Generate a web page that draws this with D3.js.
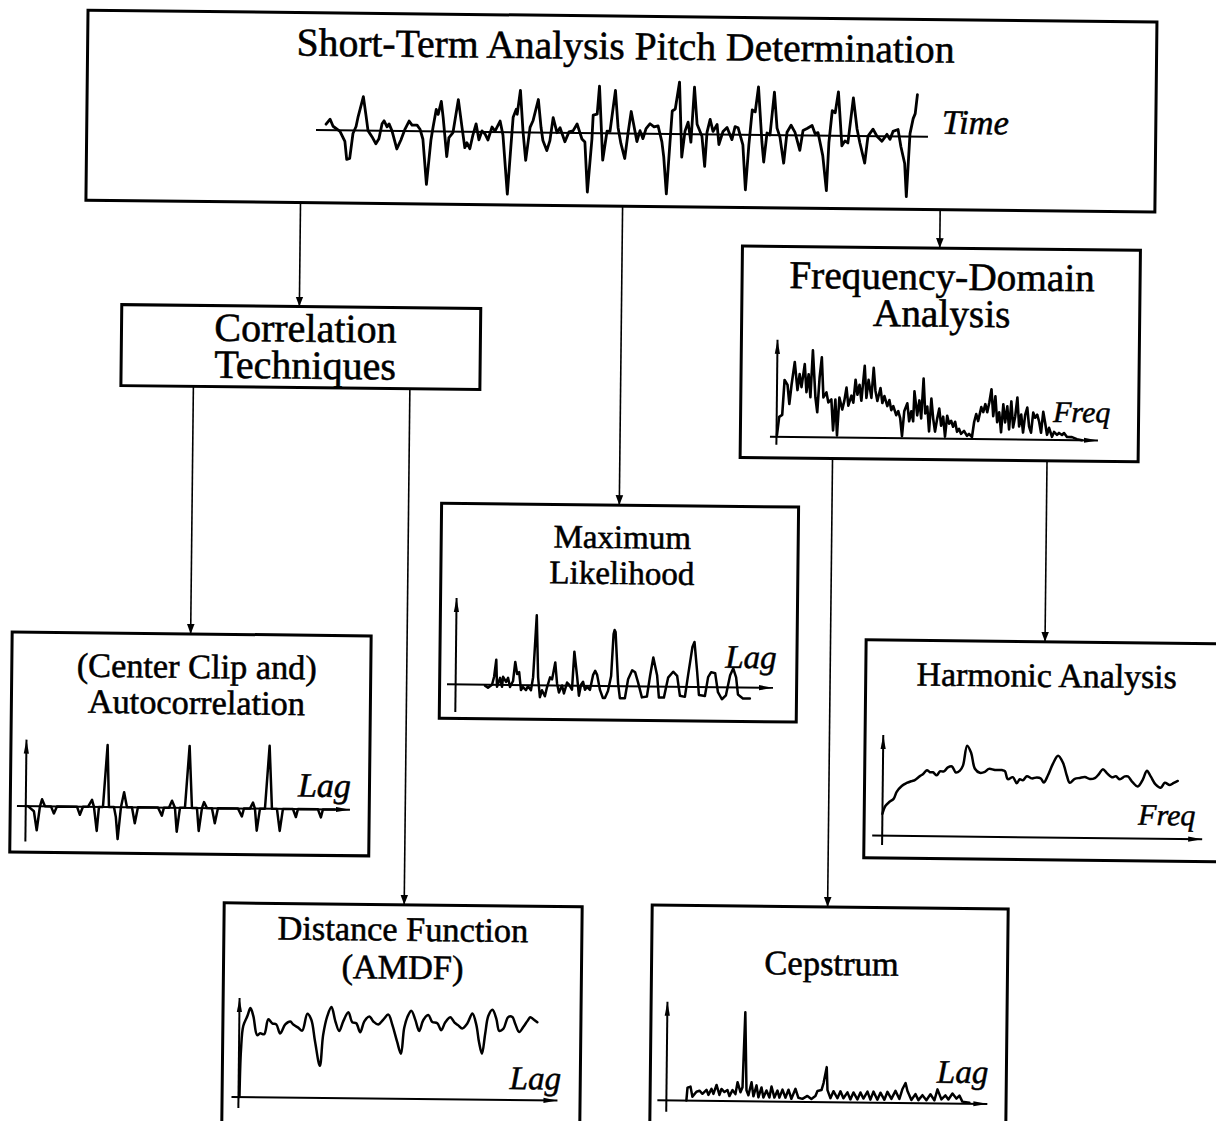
<!DOCTYPE html>
<html>
<head>
<meta charset="utf-8">
<script src="https://cdn.jsdelivr.net/npm/d3@7"></script>
<style>
  html, body { margin: 0; padding: 0; background: #fff; }
  svg { display: block; }
</style>
</head>
<body>
<script>
// ---------- signals (x in sample units along each axis, y in amplitude units) ----------

// speech segment shown in the header box: [time, amplitude]
const speech = [[10,6],[14,11],[17,4],[24,-1],[29,-11],[31,-29],[34,-28],[37,-3],[40,4],[42,14],[47,34],[50,14],[52,0],[56,-6],[60,-13],[63,-8],[66,7],[68,10],[71,4],[73,7],[76,0],[81,-18],[85,-9],[89,2],[93,10],[96,6],[101,6],[104,2],[107,-8],[111,-53],[115,-9],[117,4],[120,22],[122,17],[125,30],[127,14],[131,-25],[133,-6],[137,-1],[142,32],[146,4],[149,-16],[151,-11],[154,-17],[157,-3],[160,8],[163,-8],[166,1],[169,-2],[172,-8],[176,5],[179,1],[184,11],[187,-3],[192,-62],[195,-15],[197,15],[200,23],[201,18],[204,42],[207,1],[210,-28],[214,5],[217,12],[222,33],[225,5],[227,-8],[231,-18],[234,-8],[237,15],[241,0],[244,5],[249,-9],[253,1],[257,2],[261,9],[266,-6],[269,-9],[272,-59],[276,-6],[277,18],[281,19],[283,47],[287,-27],[291,2],[294,2],[299,43],[302,6],[305,-10],[309,-25],[312,0],[315,22],[318,7],[321,-8],[324,3],[327,-5],[330,5],[334,10],[338,7],[342,8],[346,-8],[348,-23],[351,-60],[354,-10],[356,23],[359,25],[363,52],[366,-23],[369,3],[372,12],[375,-8],[378,47],[381,10],[386,-2],[389,-32],[391,2],[394,15],[397,3],[401,10],[403,-10],[407,3],[411,7],[416,-5],[419,8],[422,7],[427,-10],[430,-55],[433,-10],[436,25],[439,23],[442,48],[446,-7],[448,-27],[451,2],[454,0],[458,43],[461,7],[464,-2],[468,-28],[471,3],[475,10],[479,3],[484,-15],[487,5],[491,7],[496,10],[499,2],[502,3],[507,-20],[511,-55],[513,-7],[516,25],[519,23],[522,44],[526,-10],[529,-5],[532,-7],[537,38],[541,7],[544,-7],[549,-27],[552,0],[557,7],[561,0],[566,-5],[571,2],[574,-3],[577,5],[582,7],[585,-10],[589,-27],[591,-60],[594,3],[597,18],[599,23],[601,42]];

// short-term magnitude spectrum: [frequency, magnitude]
const spectrum = [[7,2],[9,20],[12,22],[14,57],[17,52],[19,33],[21,52],[24,75],[27,47],[29,63],[31,50],[34,73],[36,45],[38,63],[40,40],[42,87],[45,40],[47,25],[49,60],[51,80],[53,40],[56,45],[58,35],[61,38],[63,7],[65,38],[67,2],[69,40],[72,28],[74,37],[76,50],[78,32],[81,42],[83,35],[85,58],[87,43],[89,53],[91,37],[94,72],[96,40],[98,58],[101,40],[103,70],[105,47],[107,37],[110,50],[112,35],[114,42],[117,32],[119,38],[121,28],[123,32],[126,23],[128,27],[130,20],[132,2],[134,27],[137,35],[139,17],[141,27],[143,17],[144,47],[147,23],[149,38],[151,20],[153,60],[155,25],[157,32],[159,7],[161,40],[163,20],[165,7],[167,20],[169,30],[171,13],[173,22],[175,2],[177,23],[179,15],[181,18],[183,12],[185,17],[187,7],[189,10],[191,5],[194,8],[197,3],[199,5],[202,2],[204,17],[206,25],[208,18],[211,32],[213,27],[215,35],[217,27],[219,37],[221,50],[223,23],[225,43],[227,17],[229,27],[231,7],[233,35],[235,17],[237,33],[239,10],[241,38],[243,12],[245,23],[247,42],[249,13],[251,25],[253,7],[255,25],[257,32],[259,13],[261,7],[263,27],[265,22],[267,25],[269,18],[271,7],[273,28],[275,17],[277,5],[279,12],[282,3],[284,8],[287,5],[289,7],[292,5],[294,7],[297,3],[302,3],[307,1],[312,0]];

// center-clipped autocorrelation: [lag, value]
const autocorr = [[9,0],[11,0],[17,-5],[20,-24],[23,0],[25,7],[28,0],[34,0],[37,-7],[40,0],[60,0],[63,-8],[66,0],[71,0],[75,7],[77,0],[80,-24],[82,0],[86,0],[90,62],[92,0],[97,0],[99,-10],[101,-32],[104,0],[107,15],[110,0],[115,0],[118,-16],[121,0],[141,0],[145,-8],[147,0],[152,0],[155,7],[158,0],[160,-24],[163,0],[168,0],[172,62],[175,0],[180,0],[182,-23],[185,0],[187,6],[190,0],[195,0],[198,-15],[201,0],[221,0],[225,-8],[227,0],[233,0],[236,6],[238,0],[240,-22],[243,0],[248,0],[252,63],[255,0],[260,0],[263,-22],[266,0],[276,0],[279,-8],[281,0],[301,0],[304,-8],[306,0],[318,0]];

// maximum-likelihood criterion: [lag, value]
const likelihood = [[38,-1],[41,-3],[45,0],[47,8],[49,25],[50,-2],[53,7],[55,-2],[56,8],[59,3],[61,7],[63,-2],[66,4],[68,23],[70,11],[72,13],[74,-5],[76,-2],[79,-5],[81,-1],[84,-5],[86,8],[89,70],[91,8],[93,-12],[95,-5],[98,-11],[100,-2],[103,8],[105,6],[108,23],[110,2],[112,-7],[115,0],[117,-8],[120,3],[122,1],[125,-4],[127,34],[130,9],[132,-10],[134,1],[136,4],[138,-4],[140,-1],[143,-4],[146,11],[148,15],[150,11],[153,-4],[156,-12],[158,-12],[161,-5],[164,10],[166,52],[167,56],[168,54],[171,3],[173,-12],[178,-12],[181,7],[185,16],[188,14],[191,4],[195,-11],[200,-10],[203,11],[206,29],[210,11],[212,-11],[217,-11],[221,9],[226,15],[230,11],[233,-9],[238,-10],[241,12],[245,40],[247,45],[250,15],[252,-8],[258,-9],[261,10],[264,15],[268,14],[271,-5],[275,-12],[279,-8],[283,12],[286,19],[289,10],[291,-7],[296,-11],[303,-11]];

// harmonic analysis (spectral comb / sum) curve: [frequency, value]
const harmonic = [[0,22],[3,30],[7,34],[11,37],[14,44],[19,50],[24,53],[29,55],[32,56],[37,60],[40,62],[44,66],[47,64],[50,64],[54,61],[57,65],[61,65],[65,69],[69,70],[73,64],[77,66],[80,71],[84,91],[88,84],[92,68],[97,64],[102,65],[106,68],[112,67],[119,67],[122,66],[125,58],[130,60],[134,54],[137,58],[140,57],[144,61],[149,59],[154,60],[158,59],[161,55],[165,62],[170,74],[175,82],[180,75],[184,62],[187,55],[192,59],[197,60],[202,61],[207,59],[212,60],[216,64],[220,69],[224,65],[229,61],[233,62],[237,59],[242,62],[245,62],[250,56],[255,52],[260,59],[264,68],[268,62],[273,54],[278,51],[282,56],[287,54],[291,56],[295,58]];

// average magnitude difference function: [lag, value]
const amdf = [[1,0],[2,47],[4,71],[8,81],[11,89],[14,81],[18,62],[21,64],[25,63],[29,78],[33,74],[37,73],[41,64],[46,73],[51,76],[54,73],[59,70],[63,67],[68,84],[72,78],[76,56],[81,32],[84,63],[88,82],[92,91],[96,77],[100,67],[104,77],[109,86],[113,76],[117,75],[121,66],[125,77],[130,82],[134,77],[139,74],[144,79],[149,84],[153,74],[158,57],[162,45],[165,71],[169,84],[172,88],[176,79],[180,68],[184,79],[189,84],[193,77],[198,76],[202,69],[206,77],[211,82],[215,77],[219,74],[223,71],[228,76],[233,86],[237,75],[240,57],[243,46],[246,66],[249,84],[253,90],[257,81],[260,69],[264,71],[269,83],[273,83],[276,76],[280,68],[284,73],[288,79],[291,83],[294,81],[298,78]];

// real cepstrum: [quefrency, value]
const cepstrum = [[20,0],[21,13],[24,14],[26,4],[30,9],[33,10],[36,7],[40,11],[42,6],[45,12],[47,7],[50,16],[53,6],[55,12],[58,9],[61,11],[63,5],[66,11],[69,7],[71,19],[74,9],[76,14],[78,89],[80,11],[82,6],[85,19],[87,5],[90,16],[92,4],[95,14],[97,4],[100,11],[103,4],[105,15],[108,4],[111,11],[113,4],[116,12],[119,4],[122,12],[125,3],[129,13],[132,4],[136,3],[141,6],[145,3],[149,6],[151,11],[155,12],[157,19],[160,35],[161,12],[164,4],[167,11],[171,4],[174,11],[177,4],[181,10],[184,3],[187,10],[191,3],[194,10],[197,4],[201,11],[204,3],[207,11],[211,3],[214,10],[218,3],[221,11],[225,4],[229,12],[233,4],[236,14],[239,20],[241,12],[245,3],[249,9],[252,3],[256,8],[260,3],[264,9],[268,3],[271,14],[275,4],[279,8],[282,4],[286,10],[290,5],[293,8],[296,2],[303,1]];

// ---------- labels ----------
const titleText = "Short-Term Analysis Pitch Determination";
const corrLines = ["Correlation", "Techniques"];
const freqLines = ["Frequency-Domain", "Analysis"];
const mlLines = ["Maximum", "Likelihood"];
const acLines = ["(Center Clip and)", "Autocorrelation"];
const haLines = ["Harmonic Analysis"];
const amdfLines = ["Distance Function", "(AMDF)"];
const cepLines = ["Cepstrum"];

// ---------- drawing ----------
const W = 1216, H = 1121;
const SERIF = "'Liberation Serif', 'Times New Roman', Times, serif";

const svg = d3.select("body").append("svg")
  .attr("width", W).attr("height", H)
  .attr("viewBox", `0 0 ${W} ${H}`);

const defs = svg.append("defs");
defs.append("marker").attr("id", "conn")
  .attr("viewBox", "0 0 10 10").attr("refX", 10).attr("refY", 5)
  .attr("markerWidth", 10).attr("markerHeight", 10)
  .attr("markerUnits", "userSpaceOnUse").attr("orient", "auto")
  .append("path").attr("d", "M0,1.2L10,5L0,8.8Z").attr("fill", "#000");
defs.append("marker").attr("id", "axisHead")
  .attr("viewBox", "0 0 14 6").attr("refX", 14).attr("refY", 3)
  .attr("markerWidth", 14).attr("markerHeight", 6)
  .attr("markerUnits", "userSpaceOnUse").attr("orient", "auto")
  .append("path").attr("d", "M0,0.4L14,3L0,5.6Z").attr("fill", "#000");

// the whole sheet sits at a slight tilt
const sheet = svg.append("g").attr("transform", "rotate(0.63,608,560)");

function box(x0, y0, x1, y1) {
  sheet.append("rect")
    .attr("x", x0).attr("y", y0)
    .attr("width", x1 - x0).attr("height", y1 - y0)
    .attr("fill", "none").attr("stroke", "#000").attr("stroke-width", 3);
}

// a centred caption of one or more lines, set as one text block
function lines(texts, cx, y0, step, size) {
  const t = sheet.append("text")
    .attr("x", cx).attr("y", y0)
    .attr("text-anchor", "middle")
    .attr("font-family", SERIF).attr("font-size", size)
    .attr("fill", "#000").attr("stroke", "#000").attr("stroke-width", 0.55);
  t.selectAll("tspan").data(texts).join("tspan")
    .attr("x", cx).attr("dy", (d, i) => i === 0 ? 0 : step)
    .text(d => d);
}

function italic(text, x, y, size) {
  sheet.append("text")
    .attr("x", x).attr("y", y)
    .attr("font-family", SERIF).attr("font-style", "italic")
    .attr("font-size", size).attr("fill", "#000")
    .attr("stroke", "#000").attr("stroke-width", 0.5)
    .text(text);
}

function connector(x, y1, y2) {
  sheet.append("line")
    .attr("x1", x).attr("y1", y1).attr("x2", x).attr("y2", y2)
    .attr("stroke", "#000").attr("stroke-width", 1.6)
    .attr("marker-end", "url(#conn)");
}

// one small plot: x-axis, optional y-axis, and the signal curve
function plot(opt) {
  const x = d3.scaleLinear().domain(opt.xDomain).range(opt.xRange);
  const y = d3.scaleLinear().domain([0, 100]).range([opt.axisY, opt.axisY - 100]);
  const gp = sheet.append("g");
  gp.append("line")
    .attr("x1", opt.xRange[0]).attr("x2", opt.xRange[1])
    .attr("y1", opt.axisY).attr("y2", opt.axisY)
    .attr("stroke", "#000").attr("stroke-width", opt.axisWidth || 2)
    .attr("marker-end", opt.arrow ? "url(#axisHead)" : null);
  if (opt.yAxisAt !== undefined) {
    gp.append("line")
      .attr("x1", x(opt.yAxisAt)).attr("x2", x(opt.yAxisAt))
      .attr("y1", opt.yAxisBottom).attr("y2", opt.yAxisTop)
      .attr("stroke", "#000").attr("stroke-width", 2)
      .attr("marker-end", "url(#axisHead)");
  }
  const line = d3.line()
    .x(d => x(d[0])).y(d => y(d[1]))
    .curve(opt.smooth ? d3.curveCatmullRom.alpha(0.5) : d3.curveLinear);
  gp.append("path").datum(opt.data)
    .attr("d", line)
    .attr("fill", "none").attr("stroke", "#000")
    .attr("stroke-width", opt.width || 2.6)
    .attr("stroke-linejoin", "round").attr("stroke-linecap", "round");
}

// ---- header box ----
box(82, 16, 1151, 206);
lines([titleText], 620, 59, 0, 39.6);
plot({ data: speech, xDomain: [0, 612], xRange: [311.3, 923.3], axisY: 133.3,
       arrow: false, smooth: false, width: 2.8 });
italic("Time", 937, 130, 34.5);

// ---- second level ----
box(119, 310, 478, 391);
lines(corrLines, 303, 345, 37, 40);

box(739, 244.5, 1137, 456);
lines(freqLines, 939, 286, 37, 39.3);
plot({ data: spectrum, xDomain: [0, 328], xRange: [768.6, 1096.6], axisY: 435,
       arrow: true, yAxisAt: 6.5, yAxisTop: 338, yAxisBottom: 443, smooth: false, width: 2.6 });
italic("Freq", 1051.5, 417, 30);

// ---- method boxes ----
box(441, 505, 798, 720);
lines(mlLines, 622, 548, 36, 33);
plot({ data: likelihood, xDomain: [0, 326], xRange: [448.4, 774.4], axisY: 686,
       arrow: true, yAxisAt: 8.6, yAxisTop: 599.7, yAxisBottom: 713.7, smooth: false, width: 2.5 });
italic("Lag", 726.4, 666.5, 33);

box(13, 638.5, 372, 858.5);
lines(acLines, 198, 682.5, 36, 34.3);
plot({ data: autocorr, xDomain: [0, 333], xRange: [19.7, 352.7], axisY: 812.5,
       arrow: true, yAxisAt: 8.8, yAxisTop: 746, yAxisBottom: 848, smooth: false, width: 2.5 });
italic("Lag", 300.5, 800, 34);

box(867, 637, 1235, 855);
lines(haLines, 1048, 682, 0, 33.8);
plot({ data: harmonic, xDomain: [-10, 320], xRange: [875.2, 1205.2], axisY: 832.7,
       arrow: true, yAxisAt: 0, yAxisTop: 732, yAxisBottom: 842, smooth: true, width: 2.5 });
italic("Freq", 1141, 819, 30);

box(228, 907, 586, 1145);
lines(amdfLines, 407, 943, 38, 34.3);
plot({ data: amdf, xDomain: [-7, 319], xRange: [237.4, 563.4], axisY: 1101,
       arrow: true, yAxisAt: 0, yAxisTop: 1002, yAxisBottom: 1112, smooth: true, width: 2.5 });
italic("Lag", 515.4, 1090, 33);

box(656, 904.5, 1012, 1145);
lines(cepLines, 836, 972.6, 0, 34.5);
plot({ data: cepstrum, xDomain: [-9, 321], xRange: [663.3, 993.3], axisY: 1099.7,
       arrow: true, yAxisAt: 0, yAxisTop: 1001, yAxisBottom: 1111, smooth: false, width: 2.5 });
italic("Lag", 942.6, 1079, 33);

// ---- connectors ----
connector(296.6, 206, 310);
connector(618.7, 206, 505);
connector(936.3, 206, 244.5);
connector(191.5, 391, 638.5);
connector(408, 391, 907);
connector(831.4, 456, 904.5);
connector(1045.9, 456, 637);
</script>
</body>
</html>
